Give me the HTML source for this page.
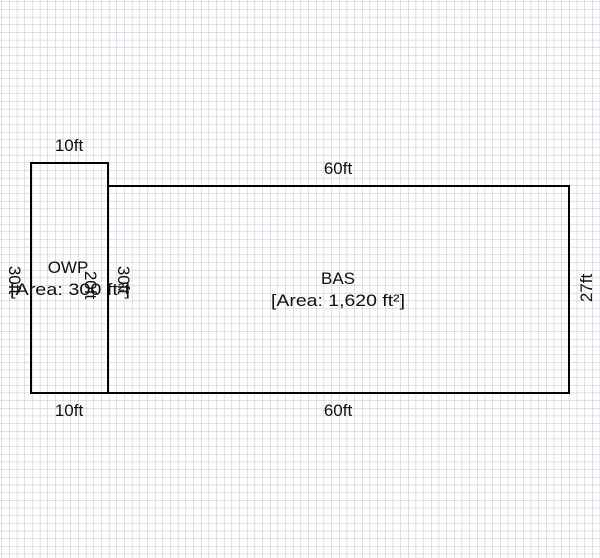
<!DOCTYPE html>
<html><head><style>
html,body{margin:0;padding:0;background:#fff;}
svg{display:block;}
text{font-family:"Liberation Sans",sans-serif;font-size:17px;fill:#111;}
</style></head><body>
<svg width="600" height="558" xmlns="http://www.w3.org/2000/svg">
<defs>
<pattern id="g" x="1.5" y="1.5" width="7.67" height="7.67" patternUnits="userSpaceOnUse">
<path d="M0 0H7.67M0 0V7.67" stroke="#c0c0cc" stroke-width="1" fill="none"/>
</pattern>
</defs>
<rect width="600" height="558" fill="#fff"/>
<rect width="600" height="558" fill="url(#g)"/>
<g fill="none" stroke="#000" stroke-width="2">
<rect x="31" y="163" width="77" height="230"/>
<rect x="108" y="186" width="461" height="207"/>
</g>
<g text-anchor="middle">
<text x="69" y="151">10ft</text>
<text x="338" y="174">60ft</text>
<text x="69" y="416">10ft</text>
<text x="338" y="416">60ft</text>
<text x="68" y="273">OWP</text>
<text x="70" y="295" textLength="120" lengthAdjust="spacingAndGlyphs">[Area: 300 ft²]</text>
<text x="338" y="284">BAS</text>
<text x="338" y="306" textLength="134" lengthAdjust="spacingAndGlyphs">[Area: 1,620 ft²]</text>
<text transform="translate(9,280) rotate(90)">30ft</text>
<text transform="translate(85,285) rotate(90)">20ft</text>
<text transform="translate(118,280) rotate(90)">30ft</text>
<text transform="translate(592,288) rotate(-90)">27ft</text>
</g>
</svg>
</body></html>
